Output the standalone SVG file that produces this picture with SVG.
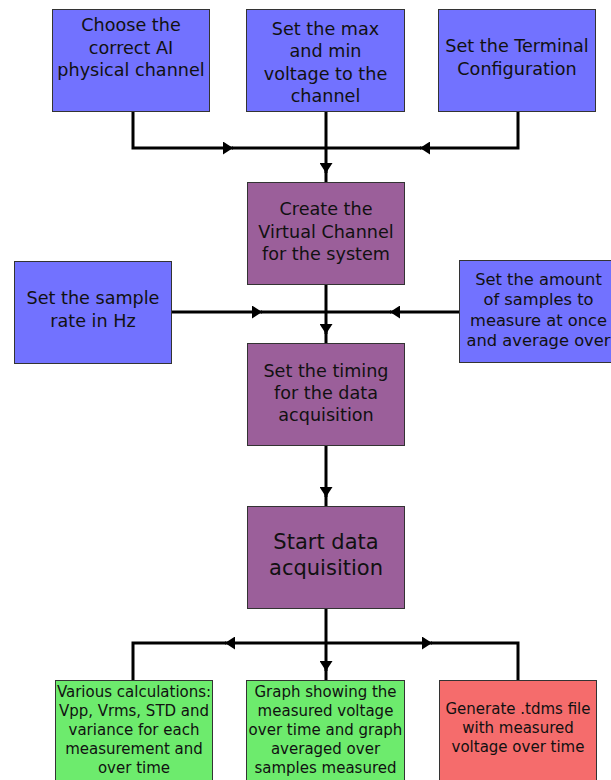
<svg xmlns="http://www.w3.org/2000/svg" width="611" height="780" viewBox="0 0 611 780">
<style>
  .box { stroke: #333; stroke-width: 1; }
  .blue { fill: #7272FF; }
  .purple { fill: #9B5F9A; }
  .green { fill: #6DEB6D; }
  .red { fill: #F56C6C; }
  text { font-family: "DejaVu Sans", "Liberation Sans", sans-serif; fill: #111; text-anchor: middle; }
  .t { font-size: 17.6px; }
  .s { font-size: 16.3px; }
  .b { font-size: 21px; }
  .g { font-size: 15px; }
  .c { fill: none; stroke: #000; stroke-width: 3; }
</style>
<defs>
  <marker id="ah" viewBox="0 0 10 13" refX="10" refY="6.5" markerWidth="10" markerHeight="13" markerUnits="userSpaceOnUse" orient="auto">
    <path d="M0,0 L10,6.5 L0,13 z" fill="#000"/>
  </marker>
</defs>
<rect width="611" height="780" fill="#fff"/>

<g id="connectors">
  <path class="c" d="M133,112 V148 H233" marker-end="url(#ah)"/>
  <path class="c" d="M518,112 V148 H420" marker-end="url(#ah)"/>
  <path class="c" d="M232,148 H421"/>
  <path class="c" d="M326,112 V173" marker-end="url(#ah)"/>
  <path class="c" d="M326,170 V182"/>

  <path class="c" d="M172,312 H262" marker-end="url(#ah)"/>
  <path class="c" d="M460,312 H390" marker-end="url(#ah)"/>
  <path class="c" d="M261,312 H391"/>
  <path class="c" d="M326,284 V334" marker-end="url(#ah)"/>
  <path class="c" d="M326,331 V343"/>

  <path class="c" d="M326,445 V497" marker-end="url(#ah)"/>
  <path class="c" d="M326,494 V506"/>

  <path class="c" d="M326,608 V671" marker-end="url(#ah)"/>
  <path class="c" d="M326,668 V680"/>
  <path class="c" d="M326,643 H225" marker-end="url(#ah)"/>
  <path class="c" d="M226,643 H133 V680"/>
  <path class="c" d="M326,643 H432" marker-end="url(#ah)"/>
  <path class="c" d="M431,643 H518 V680"/>
</g>

<g id="choose-channel">
  <rect class="box blue" x="52.5" y="9.5" width="157" height="102"/>
  <text class="t" x="131" y="31">Choose the</text>
  <text class="t" x="131" y="54">correct AI</text>
  <text class="t" x="131" y="76">physical channel</text>
</g>
<g id="set-voltage">
  <rect class="box blue" x="246.5" y="9.5" width="158" height="102"/>
  <text class="t" x="325.5" y="35">Set the max</text>
  <text class="t" x="325.5" y="57">and min</text>
  <text class="t" x="325.5" y="80">voltage to the</text>
  <text class="t" x="325.5" y="102">channel</text>
</g>
<g id="terminal-config">
  <rect class="box blue" x="438.5" y="9.5" width="157" height="102"/>
  <text class="t" x="517" y="52">Set the Terminal</text>
  <text class="t" x="517" y="75">Configuration</text>
</g>
<g id="virtual-channel">
  <rect class="box purple" x="247.5" y="182.5" width="157" height="102"/>
  <text class="t" x="326" y="215">Create the</text>
  <text class="t" x="326" y="238">Virtual Channel</text>
  <text class="t" x="326" y="260">for the system</text>
</g>
<g id="sample-rate">
  <rect class="box blue" x="14.5" y="261.5" width="157" height="102"/>
  <text class="t" x="93" y="304">Set the sample</text>
  <text class="t" x="93" y="327">rate in Hz</text>
</g>
<g id="sample-amount">
  <rect class="box blue" x="459.5" y="260.5" width="160" height="102"/>
  <text class="s" x="538.5" y="285">Set the amount</text>
  <text class="s" x="538.5" y="305">of samples to</text>
  <text class="s" x="538.5" y="326">measure at once</text>
  <text class="s" x="538.5" y="346">and average over</text>
</g>
<g id="timing">
  <rect class="box purple" x="247.5" y="343.5" width="157" height="102"/>
  <text class="t" x="326" y="377">Set the timing</text>
  <text class="t" x="326" y="399">for the data</text>
  <text class="t" x="326" y="421">acquisition</text>
</g>
<g id="start-acquisition">
  <rect class="box purple" x="247.5" y="506.5" width="157" height="102"/>
  <text class="b" x="326" y="549">Start data</text>
  <text class="b" x="326" y="575">acquisition</text>
</g>
<g id="calculations">
  <rect class="box green" x="55.5" y="680.5" width="157" height="102"/>
  <text class="g" x="134" y="697">Various calculations:</text>
  <text class="g" x="134" y="716">Vpp, Vrms, STD and</text>
  <text class="g" x="134" y="735">variance for each</text>
  <text class="g" x="134" y="754">measurement and</text>
  <text class="g" x="134" y="773">over time</text>
</g>
<g id="graph">
  <rect class="box green" x="246.5" y="680.5" width="158" height="102"/>
  <text class="g" x="325.5" y="697">Graph showing the</text>
  <text class="g" x="325.5" y="716">measured voltage</text>
  <text class="g" x="325.5" y="735">over time and graph</text>
  <text class="g" x="325.5" y="754">averaged over</text>
  <text class="g" x="325.5" y="773">samples measured</text>
</g>
<g id="tdms">
  <rect class="box red" x="439.5" y="680.5" width="157" height="102"/>
  <text class="g" x="518" y="714">Generate .tdms file</text>
  <text class="g" x="518" y="733">with measured</text>
  <text class="g" x="518" y="752">voltage over time</text>
</g>
</svg>
